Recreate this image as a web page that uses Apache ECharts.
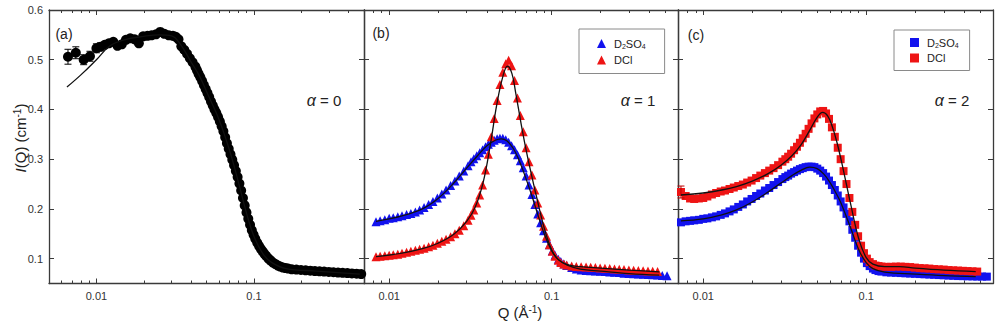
<!DOCTYPE html>
<html><head><meta charset="utf-8">
<script src="https://cdn.jsdelivr.net/npm/echarts@6/dist/echarts.min.js"></script>
<style>html,body{margin:0;padding:0;background:#fff}#c{width:1000px;height:324px}</style>
</head><body><div id="c"></div>
<script>
// ---------------- DATA ----------------
// Panel (a): alpha = 0
const qA = [0.0066,0.0074,0.0083,0.0091,0.0100,0.0106,0.0113,0.0120,0.0128,0.0136,0.0145,0.0154,0.0164,0.0175,0.0186,0.0198,0.0211,0.0224,0.0239,0.0254,0.0270,0.0288,0.0306,0.0319,0.0332,0.0346,0.0361,0.0376,0.0392,0.0408,0.0425,0.0435,0.0445,0.0457,0.0469,0.0481,0.0494,0.0507,0.052,0.0534,0.0548,0.0562,0.0577,0.0592,0.0608,0.0624,0.064,0.0657,0.0674,0.0692,0.071,0.0729,0.0748,0.0768,0.0788,0.0809,0.083,0.0852,0.0874,0.0897,0.0921,0.0945,0.097,0.0995,0.102,0.105,0.108,0.111,0.114,0.117,0.120,0.124,0.128,0.132,0.137,0.142,0.147,0.153,0.159,0.165,0.174,0.186,0.199,0.213,0.228,0.244,0.261,0.279,0.299,0.320,0.342,0.366,0.392,0.419,0.449,0.480];
const iA = [0.506,0.514,0.500,0.507,0.523,0.526,0.530,0.533,0.536,0.528,0.531,0.540,0.543,0.541,0.533,0.547,0.548,0.549,0.551,0.556,0.552,0.549,0.548,0.546,0.541,0.527,0.520,0.512,0.503,0.495,0.486,0.479,0.472,0.465,0.457,0.449,0.441,0.433,0.425,0.416,0.408,0.400,0.393,0.385,0.376,0.366,0.356,0.344,0.332,0.321,0.310,0.299,0.288,0.276,0.264,0.251,0.237,0.222,0.207,0.193,0.180,0.168,0.157,0.148,0.140,0.132,0.125,0.119,0.114,0.109,0.105,0.100,0.096,0.092,0.089,0.086,0.084,0.082,0.081,0.080,0.0785,0.078,0.0772,0.0765,0.0758,0.075,0.0745,0.074,0.0733,0.0727,0.072,0.0715,0.071,0.0703,0.0697,0.069];
const errA = [0.015,0.012,0.010,0.010,0.009,0.008];
const qFitA = [0.0065,0.0080,0.0100,0.0122,0.0150,0.0200,0.0250,0.0300,0.0340,0.0400,0.0450,0.0500,0.0600,0.0700,0.0800,0.0900,0.1000,0.1150,0.1300,0.1600,0.2500,0.4700];
const iFitA = [0.445,0.470,0.500,0.528,0.540,0.547,0.550,0.548,0.532,0.495,0.468,0.436,0.380,0.318,0.252,0.190,0.145,0.108,0.092,0.080,0.075,0.069];

// Panels (b) and (c): common Q grid
const qBC = [0.0073,0.0078,0.0083,0.0088,0.0094,0.0100,0.0106,0.0113,0.0120,0.0128,0.0136,0.0145,0.0154,0.0164,0.0175,0.0186,0.0198,0.0211,0.0224,0.0239,0.0254,0.0270,0.0288,0.0306,0.0319,0.0332,0.0346,0.0361,0.0376,0.0392,0.0408,0.0425,0.0443,0.0462,0.0481,0.0501,0.0522,0.0544,0.0567,0.0591,0.0616,0.0642,0.0669,0.0697,0.0726,0.0757,0.0789,0.0822,0.0856,0.0892,0.0930,0.0969,0.101,0.105,0.110,0.114,0.119,0.124,0.133,0.142,0.152,0.163,0.174,0.186,0.199,0.213,0.228,0.244,0.261,0.279,0.299,0.320,0.342,0.366,0.392,0.419,0.449,0.480,0.514,0.550];
// (b) alpha = 1
const iB_D2SO4 = [null,null,0.174,0.176,0.178,0.181,0.182,0.184,0.186,0.189,0.191,0.194,0.198,0.203,0.209,0.215,0.222,0.230,0.238,0.247,0.256,0.266,0.276,0.287,0.295,0.301,0.307,0.313,0.319,0.325,0.330,0.334,0.338,0.341,0.342,0.342,0.339,0.334,0.327,0.319,0.309,0.297,0.283,0.266,0.248,0.229,0.209,0.190,0.172,0.156,0.141,0.128,0.116,0.107,0.099,0.094,0.089,0.086,0.082,0.079,0.077,0.076,0.0755,0.075,0.0745,0.074,0.073,0.0725,0.072,0.0705,0.070,0.0695,0.069,0.0685,0.068,0.0675,0.067,0.066,0.0655,null];
const iB_DCl = [null,null,0.104,0.105,0.106,0.107,0.108,0.109,0.111,0.113,0.115,0.117,0.119,0.121,0.124,0.127,0.131,0.135,0.139,0.144,0.150,0.157,0.166,0.177,0.187,0.198,0.212,0.228,0.248,0.278,0.310,0.345,0.382,0.418,0.450,0.475,0.492,0.499,0.488,0.458,0.423,0.388,0.355,0.323,0.295,0.268,0.238,0.212,0.188,0.165,0.145,0.128,0.115,0.105,0.097,0.092,0.089,0.087,0.085,0.084,0.0835,0.083,0.0825,0.082,0.081,0.0805,0.080,0.079,0.0785,0.078,0.077,0.0765,0.076,0.0755,0.075,0.0745,0.074,null,null,null];
// (c) alpha = 2
const iC_D2SO4 = [0.173,0.175,0.176,0.177,0.178,0.180,0.181,0.183,0.185,0.188,0.191,0.195,0.199,0.204,0.209,0.215,0.220,0.226,0.231,0.237,0.242,0.248,0.254,0.260,0.264,0.267,0.271,0.274,0.277,0.280,0.282,0.284,0.285,0.285,0.284,0.281,0.277,0.272,0.265,0.257,0.248,0.238,0.227,0.215,0.203,0.190,0.175,0.158,0.142,0.126,0.112,0.100,0.091,0.085,0.080,0.077,0.075,0.074,0.0725,0.072,0.0715,0.071,0.0705,0.070,0.0695,0.069,0.0685,0.068,0.0675,0.067,0.0665,0.066,0.0655,0.065,0.0648,0.0645,0.0643,0.064,0.064,0.0638];
const iC_DCl = [0.234,0.226,0.221,0.220,0.221,0.222,0.225,0.229,0.232,0.235,0.237,0.240,0.243,0.246,0.249,0.253,0.257,0.262,0.267,0.272,0.277,0.282,0.288,0.295,0.300,0.305,0.311,0.318,0.325,0.333,0.342,0.351,0.361,0.372,0.382,0.390,0.396,0.397,0.392,0.381,0.364,0.345,0.323,0.300,0.276,0.250,0.222,0.194,0.168,0.145,0.126,0.111,0.100,0.093,0.089,0.086,0.085,0.084,0.0835,0.0835,0.084,0.084,0.0835,0.083,0.082,0.081,0.0805,0.080,0.079,0.0785,0.078,0.077,0.0765,0.076,0.0755,0.075,0.0745,0.074,null,null];
const errC_DCl = [0.012];
// fits
const qFitB1 = [0.0083,0.012,0.016,0.020,0.025,0.030,0.035,0.040,0.045,0.049,0.053,0.058,0.063,0.068,0.075,0.082,0.090,0.100,0.110,0.125,0.150,0.200,0.300,0.460];
const iFitB1 = [0.175,0.186,0.200,0.221,0.252,0.282,0.307,0.327,0.338,0.341,0.337,0.322,0.298,0.270,0.230,0.190,0.150,0.116,0.098,0.087,0.079,0.075,0.070,0.067];
const qFitB2 = [0.0083,0.012,0.016,0.020,0.025,0.030,0.034,0.038,0.042,0.046,0.050,0.0535,0.057,0.060,0.065,0.070,0.075,0.080,0.090,0.100,0.110,0.125,0.150,0.200,0.300,0.460];
const iFitB2 = [0.104,0.111,0.120,0.131,0.149,0.175,0.205,0.255,0.330,0.410,0.465,0.487,0.472,0.435,0.370,0.315,0.270,0.230,0.162,0.118,0.098,0.088,0.084,0.081,0.077,0.0735];
const qFitC1 = [0.0073,0.010,0.013,0.016,0.020,0.025,0.030,0.035,0.040,0.045,0.050,0.055,0.060,0.065,0.070,0.080,0.090,0.100,0.110,0.130,0.200,0.300,0.470];
const iFitC1 = [0.176,0.180,0.188,0.198,0.214,0.234,0.252,0.267,0.278,0.284,0.281,0.270,0.253,0.233,0.212,0.163,0.118,0.092,0.080,0.073,0.069,0.066,0.064];
const qFitC2 = [0.0073,0.010,0.013,0.016,0.020,0.025,0.030,0.035,0.040,0.045,0.050,0.054,0.058,0.062,0.066,0.070,0.075,0.080,0.090,0.100,0.110,0.130,0.160,0.200,0.300,0.470];
const iFitC2 = [0.228,0.232,0.238,0.245,0.256,0.271,0.288,0.307,0.330,0.358,0.384,0.394,0.387,0.365,0.335,0.300,0.255,0.212,0.140,0.102,0.089,0.084,0.084,0.081,0.077,0.074];

// axes
const yTickValues = [0.1,0.2,0.3,0.4,0.5,0.6];
const xLabelValues = [0.01, 0.1];
const minorA = [0.006,0.007,0.008,0.009,0.02,0.03,0.04,0.05,0.06,0.07,0.08,0.09,0.2,0.3,0.4];
const minorBC = [0.008,0.009,0.02,0.03,0.04,0.05,0.06,0.07,0.08,0.09,0.2,0.3,0.4,0.5];
const xRangeA = [0.005, 0.5];
const xRangeBC = [0.007, 0.6];
const yRange = [0.05, 0.6];
const panelLabels = ['(a)', '(b)', '(c)'];
const alphaLabels = ['0', '1', '2'];

// ---------------- CHART ----------------
const FONT = '"Liberation Sans", Arial, sans-serif';
const AX = '#3a3a3a';
const BLUE = '#1212ee', RED = '#ee1414';
const chart = echarts.init(document.getElementById('c'), null, {renderer: 'svg'});

function pts(q, v) { const o = []; q.forEach((x, k) => { if (v[k] != null) o.push([x, v[k]]); }); return o; }

const grids = [
  {left: 49, top: 10, width: 315, height: 273.5},
  {left: 364, top: 10, width: 314, height: 273.5},
  {left: 678, top: 10, width: 315, height: 273.5}
];
const ranges = [xRangeA, xRangeBC, xRangeBC];
const minors = [minorA, minorBC, minorBC];

const xAxes = [], yAxes = [];
grids.forEach((g, i) => {
  const r = ranges[i];
  const fmt = v => { const t = xLabelValues.find(t => Math.abs(v - t) / t < 1e-6); return t ? String(t) : ''; };
  ['bottom', 'top'].forEach(pos => {
    xAxes.push({
      type: 'log', gridIndex: i, position: pos, min: r[0], max: r[1], logBase: 10,
      axisLine: {show: true, lineStyle: {color: AX, width: 1.3}},
      axisTick: {show: true, inside: true, length: 5, lineStyle: {color: AX, width: 1}},
      axisLabel: {show: pos === 'bottom', formatter: fmt, color: '#333', fontSize: 11, fontFamily: FONT, margin: 7},
      splitLine: {show: false}, minorTick: {show: false}
    });
  });
  ['bottom', 'top'].forEach(pos => {
    xAxes.push({
      type: 'value', gridIndex: i, position: pos, min: Math.log10(r[0]), max: Math.log10(r[1]),
      axisLine: {show: false},
      axisTick: {show: true, inside: true, length: 3, customValues: minors[i].map(v => Math.log10(v)), lineStyle: {color: AX, width: 1}},
      axisLabel: {show: false}, splitLine: {show: false}
    });
  });
  ['left', 'right'].forEach(pos => {
    yAxes.push({
      type: 'value', gridIndex: i, position: pos, min: yRange[0], max: yRange[1],
      axisLine: {show: true, lineStyle: {color: AX, width: 1.3}},
      axisTick: {show: true, inside: true, length: 5, customValues: yTickValues, lineStyle: {color: AX, width: 1}},
      axisLabel: {show: i === 0 && pos === 'left', customValues: yTickValues, formatter: v => v.toFixed(1), color: '#333', fontSize: 11, fontFamily: FONT, margin: 6},
      splitLine: {show: false}
    });
  });
});

function scatter(name, i, data, symbol, color, size) {
  return {type: 'scatter', name, xAxisIndex: 4 * i, yAxisIndex: 2 * i, data, symbol, symbolSize: size,
    itemStyle: {color, opacity: 1}, z: 3, silent: true};
}
function fit(i, q, v) {
  return {type: 'line', xAxisIndex: 4 * i, yAxisIndex: 2 * i, data: pts(q, v), smooth: 0.4, showSymbol: false,
    symbol: 'none', lineStyle: {color: '#111', width: 1.3}, z: 5, silent: true};
}
function errBars(i, data, color) {
  return {type: 'custom', xAxisIndex: 4 * i, yAxisIndex: 2 * i, data, z: 4, silent: true,
    renderItem: (p, api) => {
      const x = api.value(0), y = api.value(1), e = api.value(2);
      const t = api.coord([x, y + e]), b = api.coord([x, y - e]), w = 3.5;
      const st = {stroke: color, lineWidth: 1};
      return {type: 'group', children: [
        {type: 'line', shape: {x1: t[0], y1: t[1], x2: b[0], y2: b[1]}, style: st},
        {type: 'line', shape: {x1: t[0] - w, y1: t[1], x2: t[0] + w, y2: t[1]}, style: st},
        {type: 'line', shape: {x1: b[0] - w, y1: b[1], x2: b[0] + w, y2: b[1]}, style: st}
      ]};
    }};
}

const series = [
  scatter('alpha0', 0, pts(qA, iA), 'circle', '#000', 10),
  errBars(0, errA.map((e, k) => [qA[k], iA[k], e]), '#000'),
  fit(0, qFitA, iFitA),
  scatter('D2SO4 b', 1, pts(qBC, iB_D2SO4), 'triangle', BLUE, 9),
  scatter('DCl b', 1, pts(qBC, iB_DCl), 'triangle', RED, 9),
  fit(1, qFitB1, iFitB1),
  fit(1, qFitB2, iFitB2),
  scatter('D2SO4 c', 2, pts(qBC, iC_D2SO4), 'rect', BLUE, 8),
  scatter('DCl c', 2, pts(qBC, iC_DCl), 'rect', RED, 8),
  errBars(2, errC_DCl.map((e, k) => [qBC[k], iC_DCl[k], e]), '#b00'),
  fit(2, qFitC1, iFitC1),
  fit(2, qFitC2, iFitC2)
];

const legendCommon = {
  orient: 'vertical', selectedMode: false, borderColor: '#8a8a8a', borderWidth: 1,
  itemWidth: 9, itemHeight: 9, itemGap: 5,
  formatter: n => n.startsWith('D2SO4') ? 'D{s|2}SO{s|4}' : 'DCl',
  textStyle: {fontSize: 11, fontFamily: FONT, color: '#222', padding: [0, 0, 0, 3],
    rich: {s: {fontSize: 7, fontFamily: FONT, color: '#222', verticalAlign: 'bottom', padding: [5, 0, 0, 0]}}}
};
const legends = [
  Object.assign({}, legendCommon, {left: 579, top: 29, padding: [9, 19, 8, 18],
    data: [{name: 'D2SO4 b', icon: 'triangle'}, {name: 'DCl b', icon: 'triangle'}]}),
  Object.assign({}, legendCommon, {left: 894, top: 30, padding: [7, 11, 7, 16], itemGap: 4,
    data: [{name: 'D2SO4 c', icon: 'rect'}, {name: 'DCl c', icon: 'rect'}]})
];

const graphics = [];
const labelPos = [[64, 34], [381, 33], [696, 35]];
const alphaPos = [[324, 100], [638, 100], [952, 100]];
labelPos.forEach((p, i) => graphics.push({type: 'text', x: p[0], y: p[1], z: 10,
  style: {text: panelLabels[i], font: '14px ' + FONT, fill: '#222', align: 'center', verticalAlign: 'middle', textAlign: 'center', textVerticalAlign: 'middle'}}));
alphaPos.forEach((p, i) => graphics.push({type: 'text', x: p[0], y: p[1], z: 10,
  style: {text: '{a|α} = ' + alphaLabels[i], font: '15px ' + FONT, fill: '#222', align: 'center', verticalAlign: 'middle', textAlign: 'center', textVerticalAlign: 'middle',
    rich: {a: {fontFamily: FONT, fontSize: 16, fontStyle: 'italic', fill: '#222'}}}}));
graphics.push({type: 'text', x: 20, y: 138, rotation: Math.PI / 2, z: 10,
  style: {text: '{i|I}(Q) (cm{sup|-1})', font: '15px ' + FONT, fill: '#222', align: 'center', verticalAlign: 'middle', textAlign: 'center', textVerticalAlign: 'middle',
    rich: {i: {fontFamily: FONT, fontSize: 15, fontStyle: 'italic', fill: '#222'}, sup: {fontFamily: FONT, fontSize: 10, verticalAlign: 'top', fill: '#222'}}}});
graphics.push({type: 'text', x: 520, y: 312, z: 10,
  style: {text: 'Q (Å{sup|-1})', font: '15px ' + FONT, fill: '#222', align: 'center', verticalAlign: 'middle', textAlign: 'center', textVerticalAlign: 'middle',
    rich: {sup: {fontFamily: FONT, fontSize: 10, verticalAlign: 'top', fill: '#222'}}}});

chart.setOption({
  animation: false,
  backgroundColor: '#fff',
  grid: grids,
  xAxis: xAxes,
  yAxis: yAxes,
  legend: legends,
  series,
  graphic: graphics
});
</script>
</body></html>
